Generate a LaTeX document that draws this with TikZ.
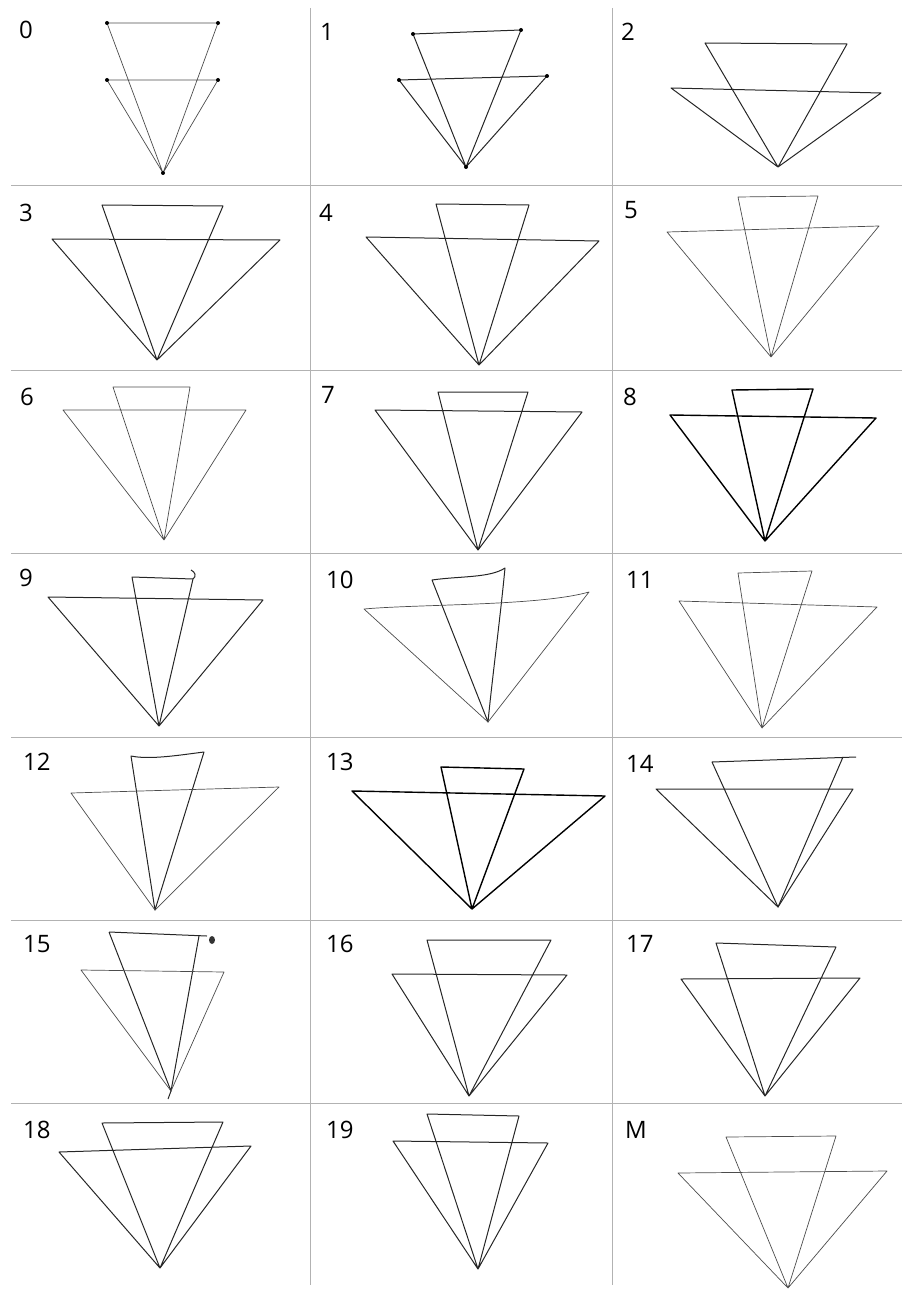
\documentclass[tikz,border=0pt]{standalone}
\usepackage{fontspec}
\setmainfont{Open Sans}
\usepackage{tikz}

\begin{document}
\begin{tikzpicture}[x=1pt,y=-1pt,
  grid line/.style={gray!60,line width=0.9pt},
  sketch/.style={black!85,line width=1pt,line join=round},
  faint sketch/.style={black!70,line width=0.7pt,line join=round},
  bold sketch/.style={black,line width=1.4pt,line join=round},
  cell label/.style={anchor=west,inner sep=0pt,font=\fontsize{24}{26}\selectfont}]
\useasboundingbox (0,0) rectangle (902,1289);
% grid
\draw[grid line] (310,8) -- (310,1285);
\draw[grid line] (612,8) -- (612,1285);
\draw[grid line] (11,185) -- (902,185);
\draw[grid line] (11,370) -- (902,370);
\draw[grid line] (11,553) -- (902,553);
\draw[grid line] (11,737) -- (902,737);
\draw[grid line] (11,920) -- (902,920);
\draw[grid line] (11,1103) -- (902,1103);
% labels
\node[cell label] (l0) at (19,30) {0};
\node[cell label] (l1) at (320,32) {1};
\node[cell label] (l2) at (621,32) {2};
\node[cell label] (l3) at (19,213) {3};
\node[cell label] (l4) at (319,213) {4};
\node[cell label] (l5) at (624,210) {5};
\node[cell label] (l6) at (20,397) {6};
\node[cell label] (l7) at (321,395) {7};
\node[cell label] (l8) at (623,397) {8};
\node[cell label] (l9) at (19,578) {9};
\node[cell label] (l10) at (326,580) {10};
\node[cell label] (l11) at (626,580) {11};
\node[cell label] (l12) at (23,762) {12};
\node[cell label] (l13) at (326,762) {13};
\node[cell label] (l14) at (626,764) {14};
\node[cell label] (l15) at (23,944) {15};
\node[cell label] (l16) at (326,944) {16};
\node[cell label] (l17) at (626,944) {17};
\node[cell label] (l18) at (23,1130) {18};
\node[cell label] (l19) at (326,1130) {19};
\node[cell label] (lM) at (625,1130) {M};
% row 1
\draw[faint sketch] (107,23) -- (218,23) -- (163,173) -- cycle (107,80) -- (218,80) -- (163,173) -- cycle;
\foreach \p in {(107,23),(218,23),(107,80),(218,80),(163,173)} \fill \p circle (2);
\draw[sketch] (413,34) -- (521,30) -- (466,167) -- cycle (399,80) -- (547,76) -- (466,167) -- cycle;
\foreach \p in {(413,34),(521,30),(399,80),(547,76),(466,167)} \fill \p circle (2);
\draw[sketch] (705,43) -- (847,44) -- (778,167) -- cycle (671,88) -- (881,93) -- (778,167) -- cycle;
% row 2
\draw[sketch] (102,205) -- (223,206) -- (157,360) -- cycle (52,239) -- (280,240) -- (157,360) -- cycle;
\draw[sketch] (436,204) -- (529,205) -- (479,365) -- cycle (366,237) -- (599,241) -- (479,365) -- cycle;
\draw[faint sketch] (738,197) -- (818,196) -- (771,357) -- cycle (667,232) -- (879,226) -- (771,357) -- cycle;
% row 3
\draw[faint sketch] (113,387) -- (190,387) -- (164,540) -- cycle (63,410) -- (246,410) -- (164,540) -- cycle;
\draw[sketch] (438,392) -- (528,392) -- (478,550) -- cycle (375,410) -- (582,412) -- (478,550) -- cycle;
\draw[bold sketch] (732,390) -- (813,389) -- (765,541) -- cycle (670,415) -- (876,418) -- (765,541) -- cycle;
% row 4
\draw[sketch] (193,579) .. controls (197,576) and (195,572) .. (191,570);
\draw[sketch] (132,577) -- (193,579) -- (159,726) -- cycle (48,597) -- (263,600) -- (159,726) -- cycle;
\draw[sketch] (432,580) .. controls (460,576) and (490,578) .. (505,568) .. controls (500,620) and (492,680) .. (488,722) -- cycle;
\draw[faint sketch] (364,609) .. controls (420,604) and (540,606) .. (589,592) -- (488,722) -- cycle;
\draw[faint sketch] (738,573) -- (812,571) -- (762,728) -- cycle (679,601) -- (877,607) -- (762,728) -- cycle;
% row 5
\draw[sketch] (131,756) .. controls (150,760) and (180,755) .. (204,752) -- (155,910) -- cycle;
\draw[faint sketch] (71,793) -- (279,787) -- (155,910) -- cycle;
\draw[bold sketch] (441,767) -- (524,769) -- (472,909) -- cycle (352,791) -- (605,796) -- (472,909) -- cycle;
\draw[sketch] (856,757) -- (712,762) -- (778,907) -- (843,757);
\draw[sketch] (656,789) -- (853,789) -- (778,907) -- cycle;
% row 6
\draw[sketch] (109,932) -- (207,936) (199,936) -- (171,1091) -- (109,932);
\draw[sketch] (171,1091) -- (168,1099);
\fill[black!80] (212,940) ellipse (3 and 4);
\draw[faint sketch] (81,970) -- (224,972) -- (171,1091) -- cycle;
\draw[sketch] (427,940) -- (551,940) -- (469,1096) -- cycle (392,974) -- (567,975) -- (469,1096) -- cycle;
\draw[sketch] (716,943) -- (836,947) -- (765,1096) -- cycle (681,979) -- (860,978) -- (765,1096) -- cycle;
% row 7
\draw[sketch] (102,1123) -- (223,1122) -- (160,1268) -- cycle (59,1152) -- (251,1146) -- (160,1268) -- cycle;
\draw[sketch] (427,1114) -- (519,1116) -- (478,1269) -- cycle (393,1141) -- (548,1143) -- (478,1269) -- cycle;
\draw[faint sketch] (726,1137) -- (836,1136) -- (788,1288) -- cycle (678,1173) -- (887,1171) -- (788,1288) -- cycle;
\end{tikzpicture}
\end{document}
